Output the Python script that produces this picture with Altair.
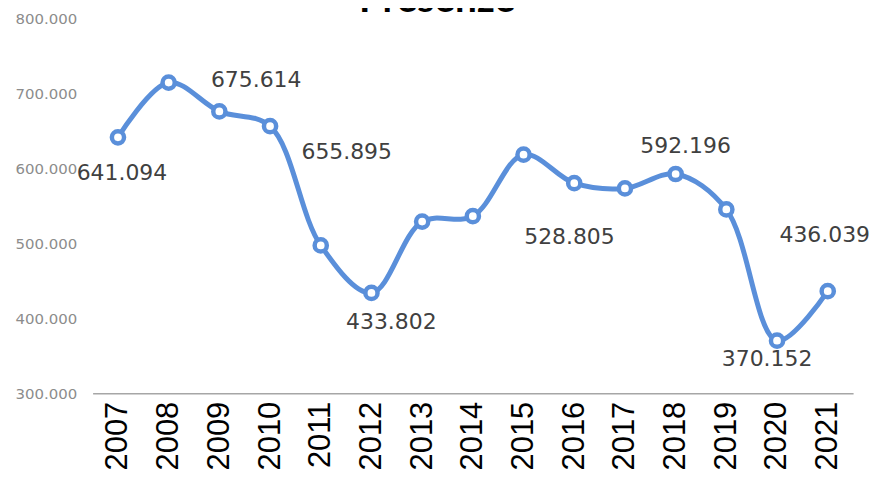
import altair as alt
import pandas as pd

years = [str(y) for y in range(2007, 2022)]
presenze = [641094, 714000, 675614, 655895, 497000, 433802, 528805, 536000,
            618000, 580000, 573000, 592196, 545000, 370152, 436039]

label_years = ["2007", "2009", "2010", "2012", "2013", "2018", "2020", "2021"]
label_texts = ["641.094", "675.614", "655.895", "433.802", "528.805", "592.196", "370.152", "436.039"]
# pixel offsets of each data label from its point (style only)
label_dx = [4, 37, 77, 20, 148, 10, -10, -3]
label_dy = [36, -32, 26, 29, 16, -28, 18, -56]

df = pd.DataFrame({"anno": years, "presenze": presenze})
lab_val = [presenze[years.index(y)] for y in label_years]

BLUE = "#5A8FDA"

x = alt.X("anno:N", sort=years, title=None,
          scale=alt.Scale(paddingInner=0, paddingOuter=0),
          axis=alt.Axis(labelAngle=-90, labelFont="Liberation Sans", labelFontSize=31,
                        labelColor="#000000", labelAlign="right", labelBaseline="middle",
                        ticks=False, domainColor="#A6A6A6", domainWidth=1.5,
                        labelPadding=8))
y = alt.Y("presenze:Q", title=None,
          scale=alt.Scale(domain=[300000, 800000], nice=False, zero=False),
          axis=alt.Axis(values=[300000, 400000, 500000, 600000, 700000, 800000],
                        labelExpr="replace(format(datum.value, ',.0f'), ',', '.')",
                        labelFont="DejaVu Sans", labelFontSize=15, labelColor="#8C8C8C",
                        grid=False, ticks=False, domain=False, labelPadding=16))

line = alt.Chart(df).mark_line(color=BLUE, strokeWidth=5, interpolate="catmull-rom").encode(x=x, y=y)
pts = alt.Chart(df).mark_point(shape="circle", filled=False, fill="white", fillOpacity=1,
                               color=BLUE, strokeWidth=4.5, size=150, opacity=1).encode(x=x, y=y)

layers = [line, pts]
for yr, txt, v, dx, dy in zip(label_years, label_texts, lab_val, label_dx, label_dy):
    d = pd.DataFrame({"anno": [yr], "presenze": [v], "t": [txt]})
    layers.append(
        alt.Chart(d).mark_text(font="DejaVu Sans", fontSize=22, color="#404040",
                               align="center", baseline="middle", dx=dx, dy=dy)
        .encode(x=alt.X("anno:N", sort=years), y="presenze:Q", text="t:N")
    )

title = alt.Chart(pd.DataFrame({"t": ["Presenze"]})).mark_text(
    font="Lato", fontWeight="bold", fontSize=39, color="#000000",
    align="center", baseline="alphabetic"
).encode(text="t:N", x=alt.value(346), y=alt.value(-6))
layers.append(title)

chart = alt.layer(*layers).properties(
    width=764, height=377,
    autosize=alt.AutoSizeParams(type="none"),
    padding={"left": 85, "top": 9, "right": 18, "bottom": 82},
).configure_view(stroke=None)

chart.save("out.html", embed_options={"renderer": "svg", "actions": False})
